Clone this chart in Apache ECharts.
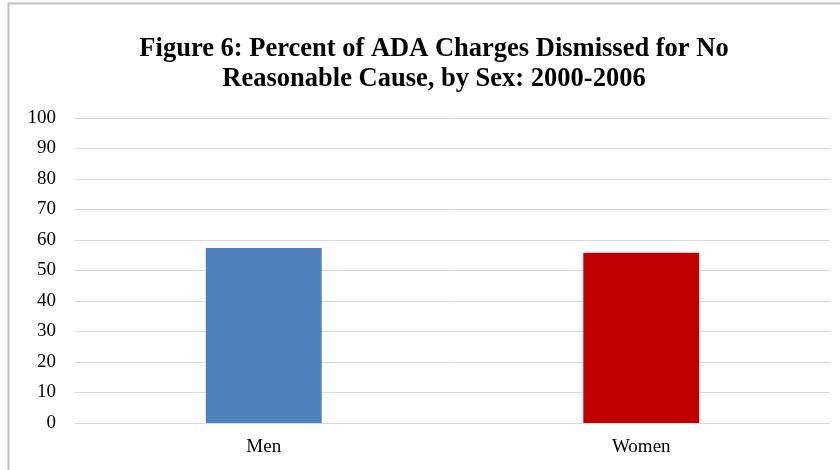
<!DOCTYPE html>
<html lang="en">
<head>
<meta charset="UTF-8">
<title>Figure 6</title>
<script src="https://cdn.jsdelivr.net/npm/echarts@6/dist/echarts.min.js"></script>
<style>
html, body { margin: 0; padding: 0; background: #fff; }
#chart { width: 840px; height: 470px; }
</style>
</head>
<body>
<div id="chart"></div>
<script>
var categories = ['Men', 'Women'];
var values = [57.4, 55.8];
var barColors = ['#4F81BD', '#C00000'];

var chart = echarts.init(document.getElementById('chart'));

var option = {
	animation: false,
	backgroundColor: '#fff',
	title: {
		text: 'Figure 6: Percent of ADA Charges Dismissed for No\nReasonable Cause, by Sex: 2000-2006',
		left: 429,
		top: 29,
		textAlign: 'center',
		textStyle: {
			fontFamily: 'Liberation Serif',
			fontWeight: 'bold',
			fontSize: 26.5,
			lineHeight: 30,
			color: '#000'
		}
	},
	graphic: [{
		type: 'rect',
		shape: { x: 8.5, y: 3.5, width: 840, height: 480 },
		style: { fill: 'none', stroke: '#bfbfbf', lineWidth: 2 }
	}],
	grid: {
		left: 75,
		right: 10,
		top: 118,
		bottom: 47,
		containLabel: false
	},
	xAxis: {
		type: 'category',
		data: categories,
		axisTick: { show: false },
		axisLine: { lineStyle: { color: '#d9d9d9', width: 1 } },
		axisLabel: {
			fontFamily: 'Liberation Serif',
			fontSize: 19,
			color: '#000',
			margin: 15
		}
	},
	yAxis: {
		type: 'value',
		min: 0,
		max: 100,
		interval: 10,
		axisLine: { show: false },
		axisTick: { show: false },
		splitLine: { lineStyle: { color: '#d9d9d9', width: 1 } },
		axisLabel: {
			fontFamily: 'Liberation Serif',
			fontSize: 19,
			color: '#000',
			margin: 19
		}
	},
	series: [{
		type: 'bar',
		barWidth: '30.7%',
		data: values.map(function(v, i) {
			return { value: v, itemStyle: { color: barColors[i] } };
		})
	}]
};

chart.setOption(option);
</script>
</body>
</html>
